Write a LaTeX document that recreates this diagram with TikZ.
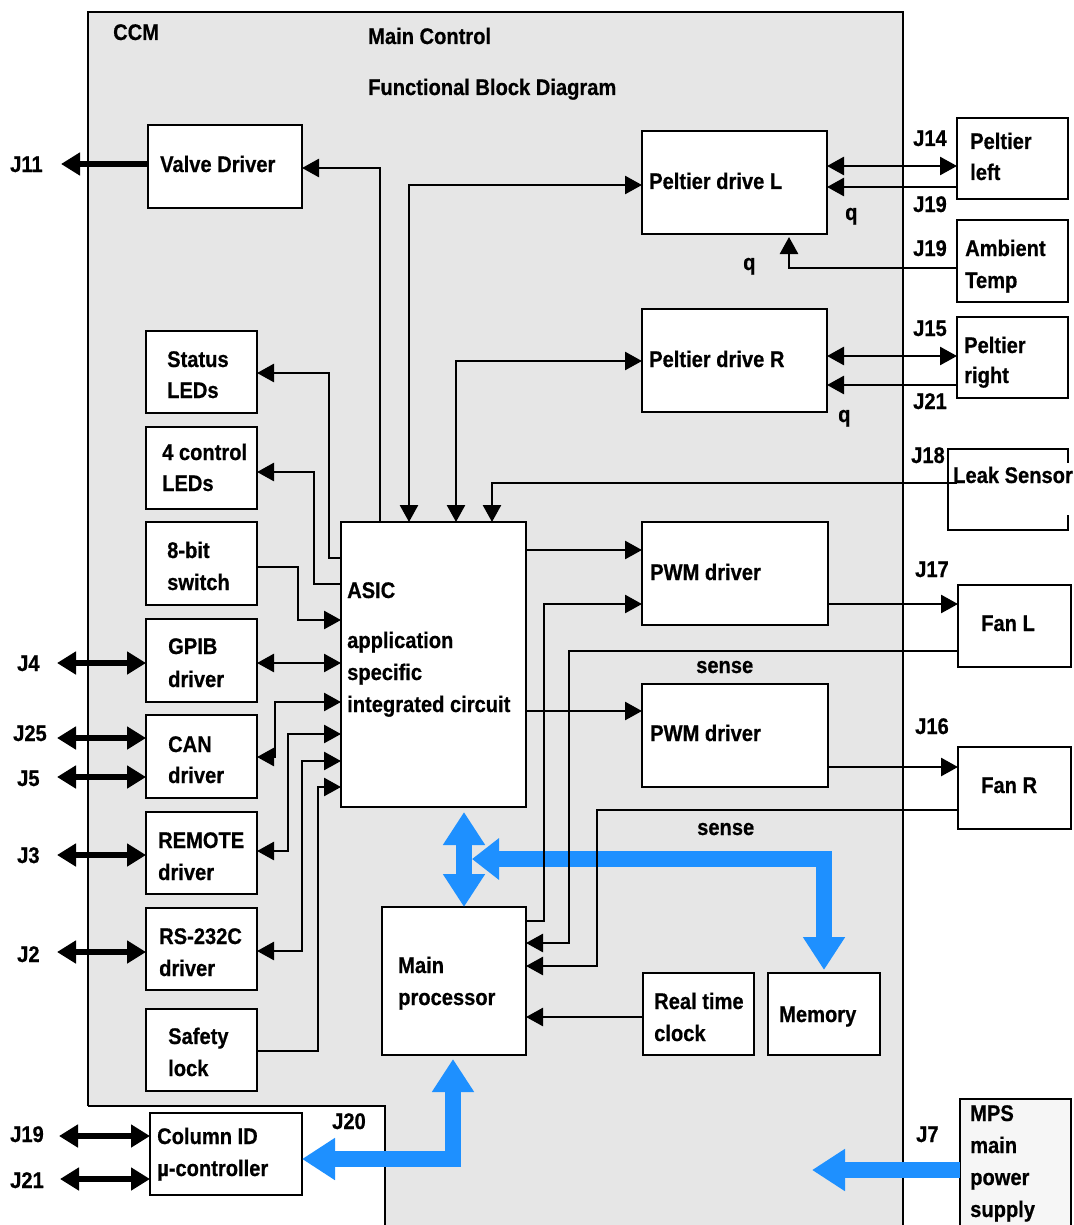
\documentclass[tikz,border=0pt]{standalone}
\usepackage{fontspec}
\newfontfamily\labfont{Liberation Sans}[FakeStretch=0.89,FakeBold=0.6]
\usetikzlibrary{arrows.meta}
\definecolor{panel}{RGB}{230,230,230}
\definecolor{bus}{RGB}{30,144,255}
\definecolor{mpsfill}{RGB}{246,246,246}
\tikzset{
  myT/.tip={Triangle[length=17pt,width=18pt]},
  bigT/.tip={Triangle[length=19pt,width=22pt]},
  bluT/.tip={Triangle[length=33pt,width=40pt]},
  bluS/.tip={Triangle[length=27pt,width=40pt]},
  box/.style={draw=black, line width=2pt, fill=white, inner sep=0pt, outer sep=0pt, anchor=north west},
  lbl/.style={inner sep=0pt, anchor=base west, font=\labfont\bfseries\fontsize{22.6}{32}\selectfont},
  conn/.style={draw=black, line width=2.7pt},
  jarrow/.style={draw=black, line width=6pt, {bigT}-{bigT}},
  busline/.style={draw=bus, line width=15.5pt, line join=miter},
}
\begin{document}
\begin{tikzpicture}[x=1pt,y=-1pt]
\useasboundingbox (0,0) rectangle (1073,1225);
\clip (0,0) rectangle (1073,1225);
% panel
\fill[panel] (88,12) -- (903,12) -- (903,1240) -- (385,1240) -- (385,1106) -- (88,1106) -- cycle;
\draw[line width=2pt] (88,1106) -- (88,12) -- (903,12) -- (903,1240);
\draw[line width=2pt] (88,1106) -- (385,1106) -- (385,1240);
% boxes
\node[box, minimum width=154pt, minimum height=83pt] (valve) at (148,125) {};
\node[box, minimum width=111pt, minimum height=82pt] (status) at (146,331) {};
\node[box, minimum width=111pt, minimum height=82pt] (ctrl4) at (146,427) {};
\node[box, minimum width=111pt, minimum height=83pt] (switch8) at (146,522) {};
\node[box, minimum width=111pt, minimum height=83pt] (gpib) at (146,619) {};
\node[box, minimum width=111pt, minimum height=83pt] (can) at (146,715) {};
\node[box, minimum width=111pt, minimum height=82pt] (remote) at (146,812) {};
\node[box, minimum width=111pt, minimum height=82pt] (rs232) at (146,908) {};
\node[box, minimum width=111pt, minimum height=82pt] (safety) at (146,1009) {};
\node[box, minimum width=152pt, minimum height=82pt] (colid) at (150,1113) {};
\node[box, minimum width=185pt, minimum height=285pt] (asic) at (341,522) {};
\node[box, minimum width=144pt, minimum height=148pt] (mainproc) at (382,907) {};
\node[box, minimum width=111pt, minimum height=82pt] (rtc) at (643,973) {};
\node[box, minimum width=112pt, minimum height=82pt] (memory) at (768,973) {};
\node[box, minimum width=185pt, minimum height=103pt] (pdl) at (642,131) {};
\node[box, minimum width=185pt, minimum height=103pt] (pdr) at (642,309) {};
\node[box, minimum width=186pt, minimum height=103pt] (pwm1) at (642,522) {};
\node[box, minimum width=186pt, minimum height=103pt] (pwm2) at (642,684) {};
\node[box, minimum width=111pt, minimum height=81pt] (peltl) at (957,118) {};
\node[box, minimum width=111pt, minimum height=82pt] (ambient) at (957,220) {};
\node[box, minimum width=111pt, minimum height=81pt] (peltr) at (957,317) {};
\node[box, minimum width=120pt, minimum height=81pt] (leak) at (948,449) {};
\node[box, minimum width=113pt, minimum height=82pt] (fanl) at (958,585) {};
\node[box, minimum width=113pt, minimum height=82pt] (fanr) at (958,747) {};
\node[box, fill=mpsfill, minimum width=111pt, minimum height=140pt] (mps) at (960,1099) {};
% blue buses
\draw[busline,{bluT}-{bluT}, shorten <=5pt] (asic.south -| 464,0) -- (mainproc.north -| 464,0);
\coordinate (busj) at (472,859);
\draw[busline,{bluS}-{bluT}, shorten >=3pt] (busj) -| (memory.north -| 824,0);
\draw[busline,{bluT}-{bluT}, shorten >=4pt] (colid.east |- 0,1159) -| (mainproc.south -| 453,0);
\coordinate (mpsend) at (812,1170);
\draw[busline,-{bluT}] (mps.west |- 0,1170) -- (mpsend);
% texts
\node[lbl] (tccm) at (113,40) {CCM};
\node[lbl] (tmain) at (368,44) {Main Control};
\node[lbl] (tfbd) at (368,95) {Functional Block Diagram};
\node[lbl] (tvalve) at (160,172) {Valve Driver};
\node[lbl] (tj11) at (10,172) {J11};
\node[lbl] (tpdl) at (649,189) {Peltier drive L};
\node[lbl] (tj14) at (913,146) {J14};
\node[lbl] (tpl1) at (970,149) {Peltier};
\node[lbl] (tpl2) at (970,180) {left};
\node[lbl] (tj19a) at (913,212) {J19};
\node[lbl] (tq1) at (845,220) {q};
\node[lbl] (tj19b) at (913,256) {J19};
\node[lbl] (tamb1) at (965,256) {Ambient};
\node[lbl] (tamb2) at (965,288) {Temp};
\node[lbl] (tq2) at (743,270) {q};
\node[lbl] (tpdr) at (649,367) {Peltier drive R};
\node[lbl] (tj15) at (913,336) {J15};
\node[lbl] (tpr1) at (964,353) {Peltier};
\node[lbl] (tpr2) at (964,383) {right};
\node[lbl] (tj21a) at (913,409) {J21};
\node[lbl] (tq3) at (838,422) {q};
\node[lbl] (tj18) at (911,463) {J18};
\node[lbl, fill=white, inner xsep=1pt, text height=20pt, text depth=32pt] (tleak) at (952,483) {Leak Sensor};
\node[lbl] (tst1) at (167,367) {Status};
\node[lbl] (tst2) at (167,398) {LEDs};
\node[lbl] (tc1) at (162,460) {4 control};
\node[lbl] (tc2) at (162,491) {LEDs};
\node[lbl] (tsw1) at (167,558) {8-bit};
\node[lbl] (tsw2) at (167,590) {switch};
\node[lbl] (ta1) at (347,598) {ASIC};
\node[lbl] (ta2) at (347,648) {application};
\node[lbl] (ta3) at (347,680) {specific};
\node[lbl] (ta4) at (347,712) {integrated circuit};
\node[lbl] (tg1) at (168,654) {GPIB};
\node[lbl] (tg2) at (168,687) {driver};
\node[lbl] (tcan1) at (168,752) {CAN};
\node[lbl] (tcan2) at (168,783) {driver};
\node[lbl] (tj4) at (17,671) {J4};
\node[lbl] (tj25) at (13,741) {J25};
\node[lbl] (tj5) at (17,786) {J5};
\node[lbl] (tr1) at (158,848) {REMOTE};
\node[lbl] (tr2) at (158,880) {driver};
\node[lbl] (tj3) at (17,863) {J3};
\node[lbl] (trs1) at (159,944) {RS-232C};
\node[lbl] (trs2) at (159,976) {driver};
\node[lbl] (tj2) at (17,962) {J2};
\node[lbl] (tsf1) at (168,1044) {Safety};
\node[lbl] (tsf2) at (168,1076) {lock};
\node[lbl] (tci1) at (157,1144) {Column ID};
\node[lbl] (tci2) at (157,1176) {µ-controller};
\node[lbl] (tj19c) at (10,1142) {J19};
\node[lbl] (tj21b) at (10,1188) {J21};
\node[lbl] (tj20) at (332,1129) {J20};
\node[lbl] (tmp1) at (398,973) {Main};
\node[lbl] (tmp2) at (398,1005) {processor};
\node[lbl] (trtc1) at (654,1009) {Real time};
\node[lbl] (trtc2) at (654,1041) {clock};
\node[lbl] (tmem) at (779,1022) {Memory};
\node[lbl] (tmps1) at (970,1121) {MPS};
\node[lbl] (tmps2) at (970,1153) {main};
\node[lbl] (tmps3) at (970,1185) {power};
\node[lbl] (tmps4) at (970,1217) {supply};
\node[lbl] (tj7) at (916,1142) {J7};
\node[lbl] (tpwm1) at (650,580) {PWM driver};
\node[lbl] (tpwm2) at (650,741) {PWM driver};
\node[lbl] (tj17) at (915,577) {J17};
\node[lbl] (tj16) at (915,734) {J16};
\node[lbl] (tfanl) at (981,631) {Fan L};
\node[lbl] (tfanr) at (981,793) {Fan R};
\node[lbl] (tsense1) at (696,673) {sense};
\node[lbl] (tsense2) at (697,835) {sense};
% thin connectors
\draw[conn,-{myT}] (asic.north -| 380,0) |- (valve.east |- 0,168);
\draw[conn,{myT}-{myT}] (asic.north -| 409,0) |- (pdl.west |- 0,185);
\draw[conn,{myT}-{myT}] (asic.north -| 456,0) |- (pdr.west |- 0,361);
\draw[conn,{myT}-] (asic.north -| 492,0) |- (leak.west |- 0,483) -- ++(9,0);
\draw[conn,-{myT}] (asic.west |- 0,558) -| (329,373) -- (status.east |- 0,373);
\draw[conn,-{myT}] (asic.west |- 0,584) -| (314,472) -- (ctrl4.east |- 0,472);
\draw[conn,-{myT}] (switch8.east |- 0,567) -| (298,620) -- (asic.west |- 0,620);
\draw[conn,{myT}-{myT}] (gpib.east |- 0,663) -- (asic.west |- 0,663);
\draw[conn,{myT}-{myT}] (can.east |- 0,757) -| (275,702) -- (asic.west |- 0,702);
\draw[conn,{myT}-{myT}] (remote.east |- 0,851) -| (288,734) -- (asic.west |- 0,734);
\draw[conn,{myT}-{myT}] (rs232.east |- 0,951) -| (302,761) -- (asic.west |- 0,761);
\draw[conn,-{myT}] (safety.east |- 0,1051) -| (318,787) -- (asic.west |- 0,787);
\draw[conn,-{myT}] (asic.east |- 0,550) -- (pwm1.west |- 0,550);
\draw[conn,-{myT}] (asic.east |- 0,711) -- (pwm2.west |- 0,711);
\draw[conn,-{myT}] (mainproc.east |- 0,921) -| (544,604) -- (pwm1.west |- 0,604);
\draw[conn,-{myT}] (fanl.west |- 0,651) -| (569,943) -- (mainproc.east |- 0,943);
\draw[conn,-{myT}] (fanr.west |- 0,810) -| (597,966) -- (mainproc.east |- 0,966);
\draw[conn,-{myT}] (rtc.west |- 0,1017) -- (mainproc.east |- 0,1017);
\draw[conn,-{myT}] (pwm1.east |- 0,604) -- (fanl.west |- 0,604);
\draw[conn,-{myT}] (pwm2.east |- 0,767) -- (fanr.west |- 0,767);
\draw[conn,{myT}-{myT}] (pdl.east |- 0,166) -- (peltl.west |- 0,166);
\draw[conn,-{myT}] (peltl.west |- 0,187) -- (pdl.east |- 0,187);
\draw[conn,-{myT}, shorten >=3pt] (ambient.west |- 0,268) -| (pdl.south -| 789,0);
\draw[conn,{myT}-{myT}] (pdr.east |- 0,356) -- (peltr.west |- 0,356);
\draw[conn,-{myT}] (peltr.west |- 0,385) -- (pdr.east |- 0,385);
% J connectors
\coordinate (j11) at (61,164);
\draw[line width=6pt, -{bigT}] (valve.west |- 0,164) -- (j11);
\coordinate (j4) at (57,663);
\draw[jarrow] (j4) -- (gpib.west |- 0,663);
\coordinate (j25) at (57,738);
\draw[jarrow] (j25) -- (can.west |- 0,738);
\coordinate (j5) at (57,777);
\draw[jarrow] (j5) -- (can.west |- 0,777);
\coordinate (j3) at (57,855);
\draw[jarrow] (j3) -- (remote.west |- 0,855);
\coordinate (j2) at (57,952);
\draw[jarrow] (j2) -- (rs232.west |- 0,952);
\coordinate (j19) at (59,1136);
\draw[jarrow] (j19) -- (colid.west |- 0,1136);
\coordinate (j21) at (60,1179);
\draw[jarrow] (j21) -- (colid.west |- 0,1179);
\end{tikzpicture}
\end{document}
